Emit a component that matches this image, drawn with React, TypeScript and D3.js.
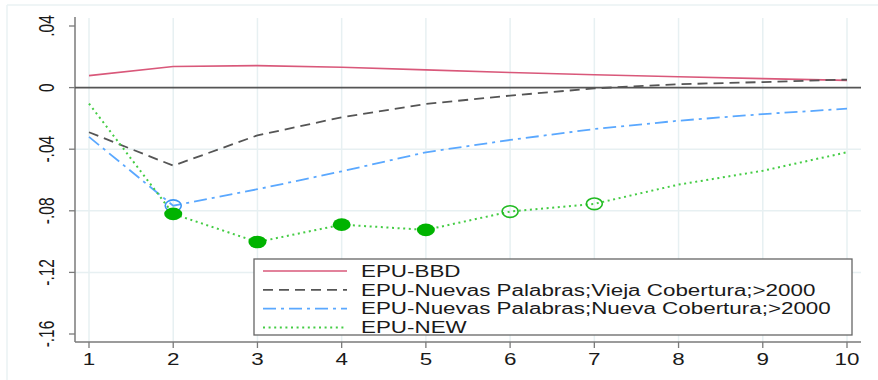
import React from 'react';
import * as d3 from 'd3';

// horizons and responses
const horizons = [1, 2, 3, 4, 5, 6, 7, 8, 9, 10];
const epuBBD = [0.0078, 0.0137, 0.0143, 0.0132, 0.0115, 0.0098, 0.0083, 0.0070, 0.0058, 0.0047];
const epuVieja = [-0.029, -0.0507, -0.031, -0.0193, -0.0106, -0.0052, -0.0005, 0.0022, 0.0036, 0.0052];
const epuNueva = [-0.032, -0.0767, -0.066, -0.0544, -0.042, -0.034, -0.0269, -0.0215, -0.0172, -0.0137];
const epuNew = [-0.0104, -0.082, -0.1003, -0.089, -0.0924, -0.0805, -0.0755, -0.063, -0.054, -0.042];
// marker types for EPU-NEW: 'f' filled, 'o' hollow, '' none
const newMarkers = ['', 'f', 'f', 'f', 'f', 'o', 'o', '', '', ''];
const nuevaMarkers = ['', 'o', '', '', '', '', '', '', '', ''];

const yTicks = [0.04, 0, -0.04, -0.08, -0.12, -0.16];
const yTickLabels = ['.04', '0', '-.04', '-.08', '-.12', '-.16'];
const yGrid = [-0.04, -0.08, -0.12];

const legendLabels = [
  'EPU-BBD',
  'EPU-Nuevas Palabras;Vieja Cobertura;>2000',
  'EPU-Nuevas Palabras;Nueva Cobertura;>2000',
  'EPU-NEW',
];

const W = 878;
const H = 380;
const SX = 1.4; // the source image is stretched sideways
const FONT = '"Liberation Sans", Arial, sans-serif';

const series = [
  { values: epuBBD, color: '#d9587a', dash: 'none', width: 1.6 },
  { values: epuVieja, color: '#555555', dash: '10,6', width: 1.8 },
  { values: epuNueva, color: '#5aa8ff', dash: '13,5,3,5', width: 1.8 },
  { values: epuNew, color: '#44cc44', dash: '2,3.6', width: 2 },
];

export default function App() {
  const x = d3.scaleLinear().domain([1, 10]).range([89, 847]);
  const y = d3.scaleLinear().domain([-0.16, 0.04]).range([334, 26]);
  const line = d3
    .line<number>()
    .x((_, i) => x(horizons[i]))
    .y((d) => y(d));

  const axisColor = '#7a7a7a';
  const gridColor = '#e7f0f2';

  return (
    <svg width={W} height={H} style={{ position: 'absolute', left: 0, top: 0, background: '#fff' }}>
      {/* outer frame */}
      <line x1={7} y1={5} x2={W} y2={5} stroke="#eaf2f3" strokeWidth={1.5} />
      <line x1={7} y1={5} x2={7} y2={H} stroke="#eaf2f3" strokeWidth={1.5} />

      {/* grid */}
      {horizons.map((h) => (
        <line key={'vg' + h} x1={x(h)} x2={x(h)} y1={18} y2={342} stroke={gridColor} strokeWidth={1.5} />
      ))}
      {yGrid.map((v) => (
        <line key={'hg' + v} x1={75} x2={861} y1={y(v)} y2={y(v)} stroke={gridColor} strokeWidth={1.5} />
      ))}

      {/* axes */}
      <line x1={75} x2={75} y1={17} y2={342} stroke={axisColor} strokeWidth={1.5} />
      <line x1={75} x2={861} y1={342} y2={342} stroke={axisColor} strokeWidth={1.5} />
      {yTicks.map((v, i) => (
        <g key={'yt' + i}>
          <line x1={69} x2={75} y1={y(v)} y2={y(v)} stroke={axisColor} strokeWidth={1.3} />
          <text
            transform={`translate(54,${y(v)}) scale(${SX},1) rotate(-90)`}
            textAnchor="middle"
            fontFamily={FONT}
            fontSize={15.5}
            fill="#1a1a1a"
          >
            {yTickLabels[i]}
          </text>
        </g>
      ))}
      {horizons.map((h) => (
        <g key={'xt' + h}>
          <line x1={x(h)} x2={x(h)} y1={342} y2={348} stroke={axisColor} strokeWidth={1.3} />
          <text
            transform={`translate(${x(h)},365) scale(${SX},1)`}
            textAnchor="middle"
            fontFamily={FONT}
            fontSize={16}
            fill="#1a1a1a"
          >
            {h}
          </text>
        </g>
      ))}

      {/* zero line */}
      <line x1={75} x2={861} y1={y(0)} y2={y(0)} stroke="#555" strokeWidth={1.6} />

      {/* series */}
      {series.map((s, i) => (
        <path
          key={'s' + i}
          d={line(s.values) || ''}
          fill="none"
          stroke={s.color}
          strokeWidth={s.width}
          strokeDasharray={s.dash}
        />
      ))}

      {/* markers */}
      {nuevaMarkers.map((m, i) =>
        m ? (
          <ellipse key={'nm' + i} cx={x(horizons[i])} cy={y(epuNueva[i])} rx={8} ry={5.8} fill="none" stroke="#3d96f5" strokeWidth={1.6} />
        ) : null
      )}
      {newMarkers.map((m, i) =>
        m === 'f' ? (
          <ellipse key={'gm' + i} cx={x(horizons[i])} cy={y(epuNew[i])} rx={9} ry={6.3} fill="#00b300" />
        ) : m === 'o' ? (
          <ellipse key={'gm' + i} cx={x(horizons[i])} cy={y(epuNew[i])} rx={8} ry={5.8} fill="none" stroke="#22bb22" strokeWidth={1.6} />
        ) : null
      )}

      {/* legend */}
      <rect x={254} y={259} width={598} height={76} fill="#fff" stroke="#666" strokeWidth={1.3} />
      {legendLabels.map((label, i) => {
        const ly = 271 + i * 18.8;
        const s = series[i];
        return (
          <g key={'lg' + i}>
            <line x1={263} x2={347} y1={ly} y2={ly} stroke={s.color} strokeWidth={s.width} strokeDasharray={s.dash} />
            <text
              transform={`translate(361,${ly + 5.7}) scale(${SX},1)`}
              fontFamily={FONT}
              fontSize={16}
              fill="#1a1a1a"
            >
              {label}
            </text>
          </g>
        );
      })}
    </svg>
  );
}
